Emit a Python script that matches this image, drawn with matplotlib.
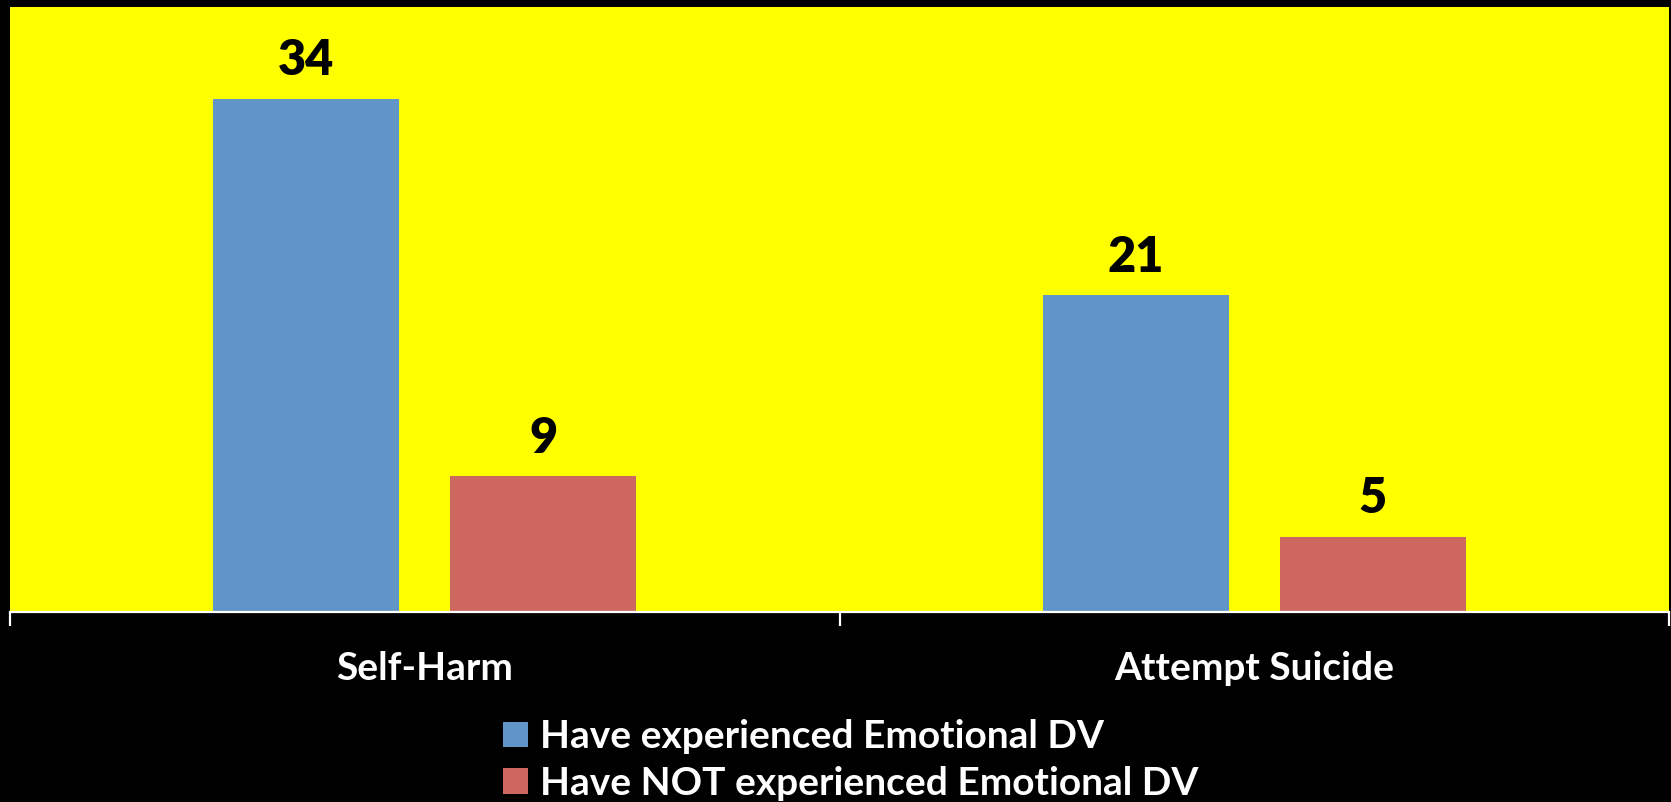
import matplotlib
matplotlib.use("Agg")
import matplotlib.pyplot as plt
import numpy as np

categories = ["Self-Harm", "Attempt Suicide"]
experienced = [34, 21]
not_experienced = [9, 5]
series_names = ["Have experienced Emotional DV", "Have NOT experienced Emotional DV"]

plt.rcParams["font.family"] = ["Lato", "DejaVu Sans"]

fig = plt.figure(figsize=(16.71, 8.02), dpi=100, facecolor="black")
ax = fig.add_axes([10 / 1671, 1 - 612 / 802, 1659 / 1671, 605 / 802])
ax.set_facecolor("#FFFF00")

x = np.arange(len(categories))
width = 0.224
off = 0.143
b1 = ax.bar(x - off, experienced, width, color="#6195C8", label=series_names[0])
b2 = ax.bar(x + off, not_experienced, width, color="#CD6760", label=series_names[1])

for bars, vals in ((b1, experienced), (b2, not_experienced)):
    for bar, v in zip(bars, vals):
        ax.annotate(str(v), (bar.get_x() + bar.get_width() / 2, bar.get_height()),
                    xytext=(0, 17), textcoords="offset points",
                    ha="center", va="baseline", fontsize=35, fontweight="heavy", color="black")

ax.set_xlim(-0.5, 1.5)
ax.set_ylim(0, 40.1)
ax.set_yticks([])
for s in ("top", "right", "left"):
    ax.spines[s].set_visible(False)
ax.spines["bottom"].set_color("white")
ax.spines["bottom"].set_linewidth(1.6)

# category boundary ticks, labels at centres
ax.set_xticks([-0.5, 0.5, 1.5])
ax.set_xticklabels([])
ax.tick_params(axis="x", which="major", length=10, width=1.6, color="white")
ax.set_xticks(x, minor=True)
ax.set_xticklabels(categories, minor=True)
ax.tick_params(axis="x", which="minor", length=0, pad=28, labelsize=28, labelcolor="white")
for t in ax.get_xticklabels(minor=True):
    t.set_fontweight("bold")

leg = fig.legend(loc="center", bbox_to_anchor=(0.509, 1 - 760 / 802), ncol=1, frameon=False,
                 fontsize=28, handlelength=0.65, handleheight=0.65, handletextpad=0.3,
                 labelspacing=0.3, borderpad=0)
for t in leg.get_texts():
    t.set_color("white")
    t.set_fontweight("bold")

fig.savefig("out.png", dpi=100, facecolor="black")
